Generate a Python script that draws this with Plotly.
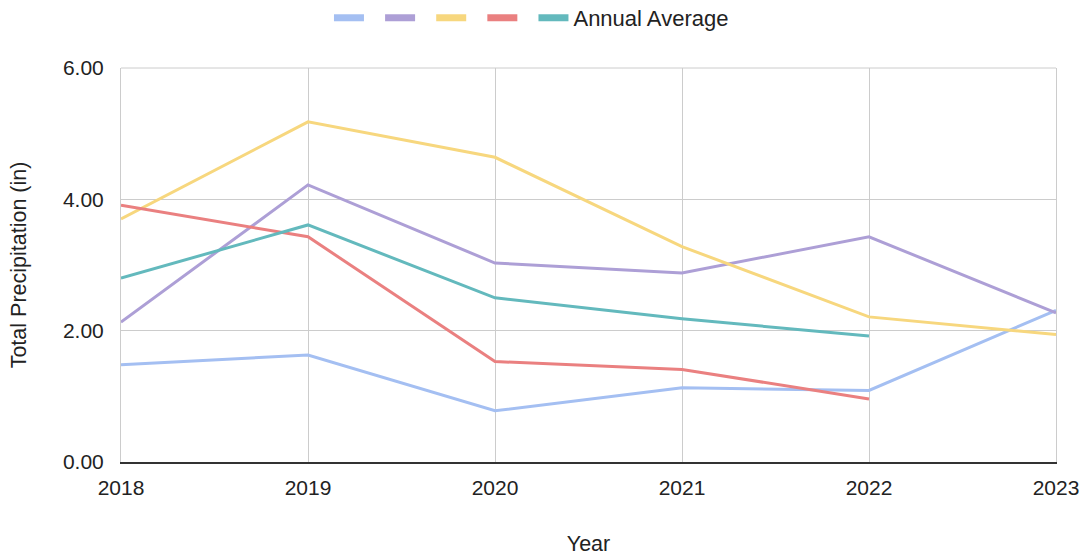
import plotly.graph_objects as go

years = [2018, 2019, 2020, 2021, 2022, 2023]
s_blue = [1.48, 1.63, 0.78, 1.13, 1.09, 2.31]
s_purple = [2.13, 4.22, 3.03, 2.88, 3.43, 2.27]
s_yellow = [3.70, 5.18, 4.64, 3.28, 2.21, 1.94]
s_red = [3.91, 3.43, 1.53, 1.41, 0.96, None]
s_avg = [2.80, 3.61, 2.50, 2.18, 1.92, None]

names = ["\u00a0", "\u00a0", "\u00a0", "\u00a0", "Annual Average"]
series = [s_blue, s_purple, s_yellow, s_red, s_avg]
colors = ["#a4bff2", "#ad9fd6", "#f7d77e", "#ea8080", "#63b9bd"]

fig = go.Figure()
for n, s, c in zip(names, series, colors):
    fig.add_trace(go.Scatter(x=years, y=s, name=n, mode="lines",
                             line=dict(color=c, width=3), showlegend=False))
# legend swatches (thicker, like the reference)
for n, c in zip(names, colors):
    fig.add_trace(go.Scatter(x=[None], y=[None], name=n, mode="lines",
                             line=dict(color=c, width=7), showlegend=True))

font = "Liberation Sans, Arial, sans-serif"
fig.update_layout(
    width=1083, height=556,
    margin=dict(l=121, r=27, t=68, b=94, autoexpand=False),
    paper_bgcolor="white", plot_bgcolor="white",
    font=dict(family=font, size=22, color="#222222"),
    legend=dict(orientation="h", x=0.439, xanchor="center", y=1.127, yanchor="middle",
                yref="paper", itemwidth=30,
                font=dict(size=22, color="#222222")),
    xaxis=dict(range=[2018, 2023], tickmode="array", tickvals=years,
               ticktext=[str(y) for y in years], automargin=False,
               showgrid=True, gridcolor="#cccccc", gridwidth=1,
               showline=True, linecolor="#333333", linewidth=2,
               zeroline=False, ticks="", tickfont=dict(size=21),
               ticklabelstandoff=6,
               title=dict(text="Year", font=dict(size=21.5), standoff=39)),
    yaxis=dict(range=[0, 6], tickmode="array", tickvals=[0, 2, 4, 6],
               ticktext=["0.00", "2.00", "4.00", "6.00"], automargin=False,
               showgrid=True, gridcolor="#cccccc", gridwidth=1,
               zeroline=False, showline=True, linecolor="#cccccc", linewidth=1,
               mirror=True, ticks="", ticklabelstandoff=12,
               tickfont=dict(size=21),
               title=dict(text="Total Precipitation (in)", font=dict(size=21.5), standoff=30)),
    shapes=[dict(type="line", xref="paper", yref="paper", x0=0, x1=1, y0=1, y1=1,
                 line=dict(color="#cccccc", width=1))],
)
fig.write_html("out.html")
